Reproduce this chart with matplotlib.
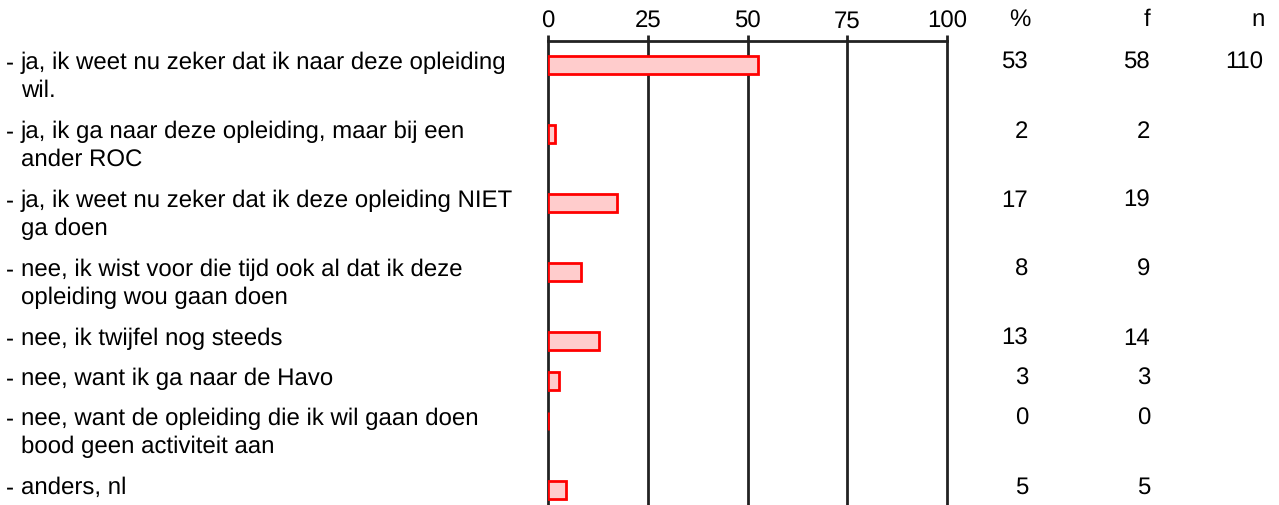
import matplotlib
matplotlib.use("Agg")
import matplotlib.pyplot as plt

plt.rcParams['font.family'] = ['Liberation Sans', 'DejaVu Sans']
plt.rcParams['text.hinting'] = 'no_hinting'
plt.rcParams['text.hinting_factor'] = 1

labels = [
    "ja, ik weet nu zeker dat ik naar deze opleiding\nwil.",
    "ja, ik ga naar deze opleiding, maar bij een\nander ROC",
    "ja, ik weet nu zeker dat ik deze opleiding NIET\nga doen",
    "nee, ik wist voor die tijd ook al dat ik deze\nopleiding wou gaan doen",
    "nee, ik twijfel nog steeds",
    "nee, want ik ga naar de Havo",
    "nee, want de opleiding die ik wil gaan doen\nbood geen activiteit aan",
    "anders, nl",
]
pct_values = [52.7, 1.8, 17.3, 8.2, 12.7, 2.7, 0.0, 4.5]
pct_labels = ["53", "2", "17", "8", "13", "3", "0", "5"]
freq = ["58", "2", "19", "9", "14", "3", "0", "5"]
n_total = "110"
ticks = [0, 25, 50, 75, 100]

W, H = 1279, 506
fig = plt.figure(figsize=(W / 100, H / 100), dpi=100)

bg = fig.add_axes([0, 0, 1, 1])
bg.set_xlim(0, W)
bg.set_ylim(H, 0)
bg.axis('off')

x0, x1, ytop = 548, 947, 42
ax = fig.add_axes([x0 / W, 0, (x1 - x0) / W, (H - ytop) / H])
ax.set_xlim(0, 100)
ax.set_ylim(H, ytop)
for s in ['left', 'right', 'bottom']:
    ax.spines[s].set_visible(False)
ax.spines['top'].set_linewidth(2)
ax.spines['top'].set_color('#222222')
ax.xaxis.tick_top()
ax.set_xticks(ticks)
fs = 17.3
ax.set_xticklabels([str(t) for t in ticks], fontsize=fs)
ax.tick_params(axis='x', length=4, width=2, color='#222222', pad=3)
ax.set_yticks([])
ax.patch.set_alpha(0)
for t in ticks:
    ax.axvline(t, color='#222222', lw=2, zorder=1, clip_on=False)

centers = []
y = 66
for lab in labels:
    centers.append(y)
    nlines = lab.count("\n") + 1
    y += 11 + 29 * nlines

ax.barh(centers, pct_values, height=18, left=0, color='#ffcccc',
        edgecolor='#ff0000', linewidth=2, zorder=3)

for c, lab, p, f in zip(centers, labels, pct_labels, freq):
    ty = c - 3
    bg.text(6, ty, "-", fontsize=fs, va='center', ha='left')
    for k, ln in enumerate(lab.split("\n")):
        bg.text(21, ty + 28 * k, ln, fontsize=fs, va='center', ha='left')
    bg.text(1028, ty, p, fontsize=fs, va='center', ha='right')
    bg.text(1150, ty, f, fontsize=fs, va='center', ha='right')

bg.text(1263, centers[0] - 3, n_total, fontsize=fs, va='center', ha='right')
bg.text(1020, 20, "%", fontsize=fs, va='center', ha='center')
bg.text(1147, 20, "f", fontsize=fs, va='center', ha='center')
bg.text(1258, 20, "n", fontsize=fs, va='center', ha='center')

fig.savefig("out.png", dpi=100)
